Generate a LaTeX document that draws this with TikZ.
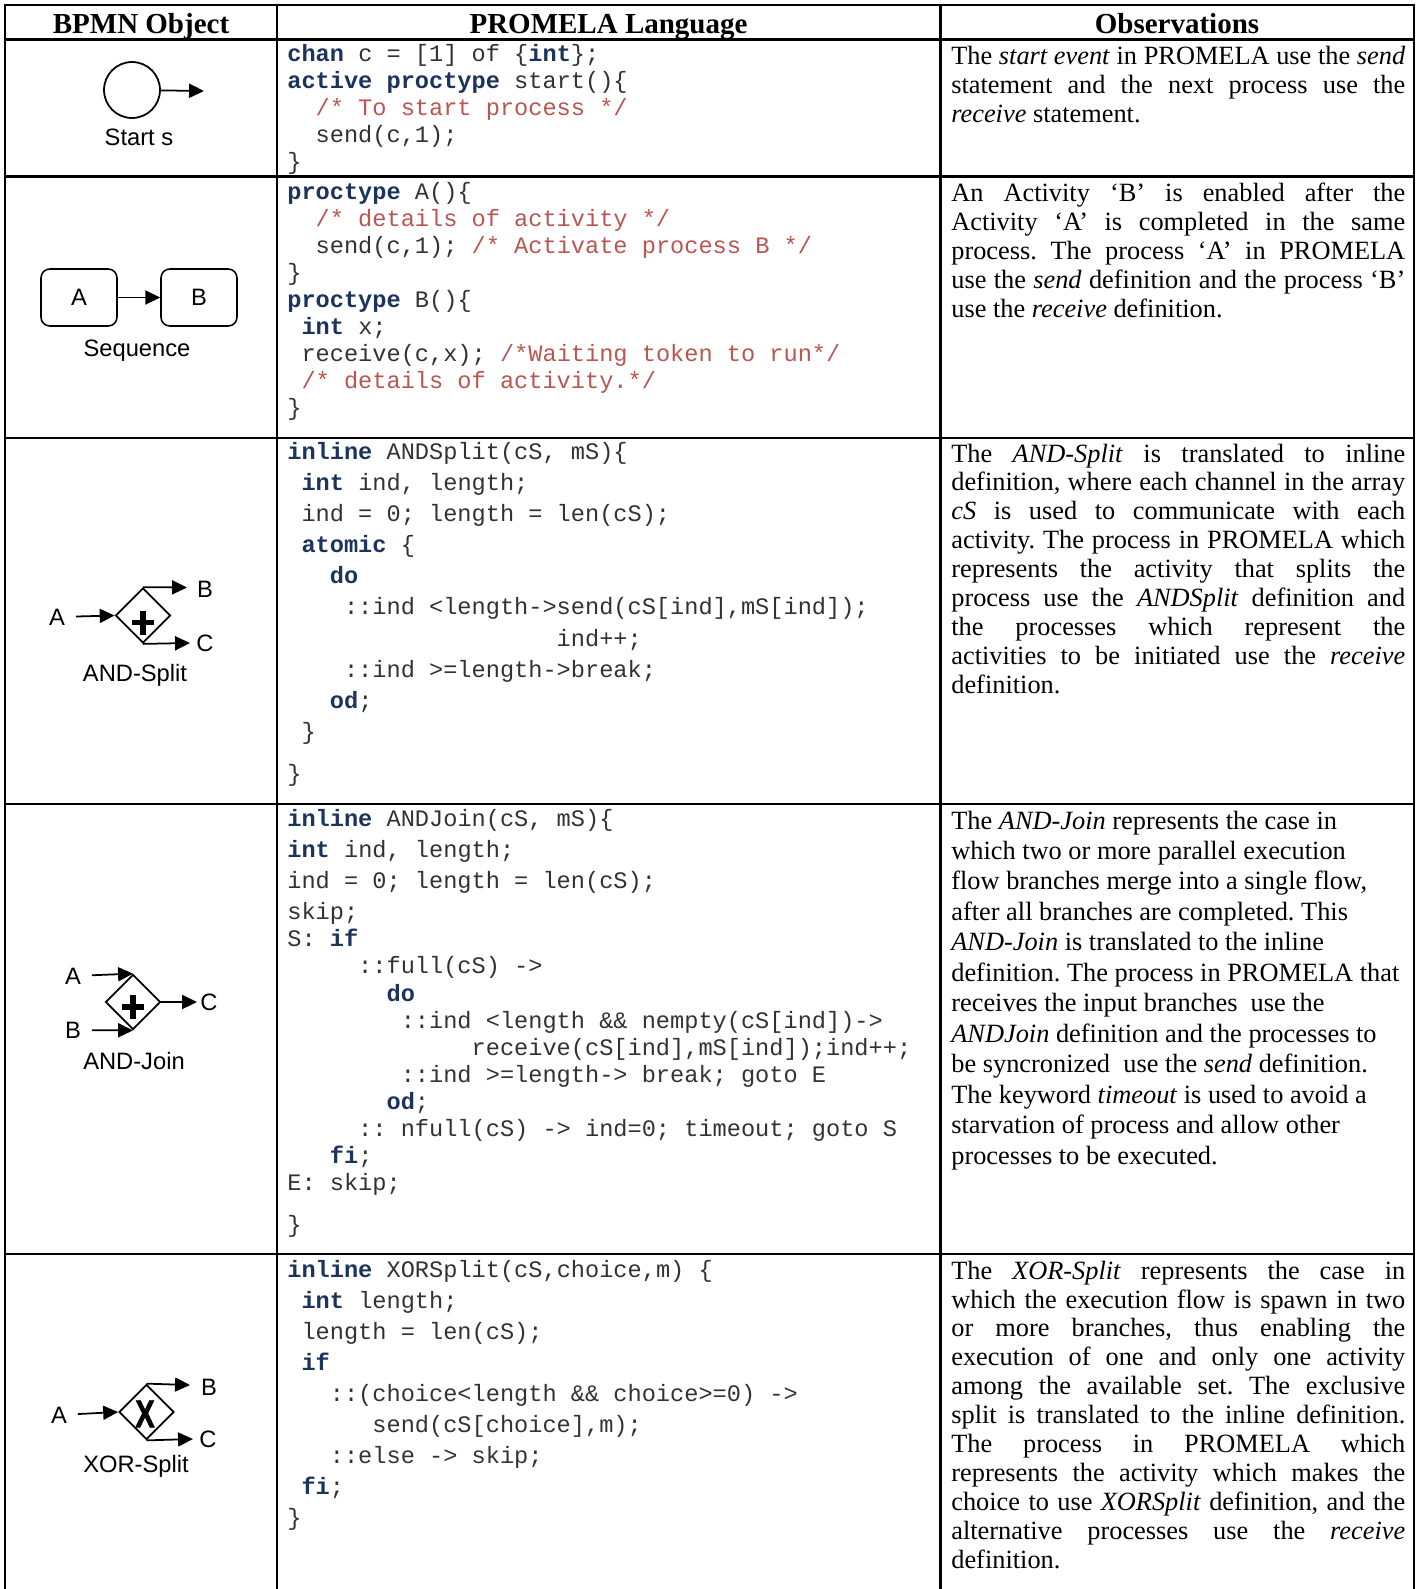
\documentclass[tikz,border=0pt]{standalone}
\usepackage{fontspec}
\usepackage{graphicx}
\setmainfont{Liberation Serif}
\setmonofont{Liberation Mono}
\newfontfamily\bpmnfont{Liberation Sans}
\newfontfamily\gatex[FakeBold=2]{Liberation Sans Bold}
\usetikzlibrary{shapes.geometric}
\usetikzlibrary{arrows.meta}
\usetikzlibrary{positioning}
\definecolor{kwblue}{RGB}{28,52,92}
\definecolor{cmtred}{RGB}{184,86,82}
\definecolor{codegray}{RGB}{50,50,50}
\newdimen\chw \chw=8.07pt
\newcommand\monosp{\fontdimen2\font=\chw\fontdimen3\font=0pt\fontdimen4\font=0pt\fontdimen7\font=0pt}
\newcommand\kwd[1]{{\bfseries\monosp\color{kwblue}#1}}
\newcommand\cmt[1]{{\color{cmtred}#1}}
\newcommand\indt[1]{\hspace*{#1\chw}}
\hyphenpenalty=10000 \exhyphenpenalty=10000 \tolerance=9999
\frenchspacing

\begin{document}
\begin{tikzpicture}[x=0.02cm, y=-0.02cm, >={Triangle[length=8.5pt,width=8pt]},
    grid/.style={line width=1.2pt},
    head/.style={anchor=base, inner sep=0, font=\bfseries\fontsize{16.5}{18}\selectfont},
    code/.style={anchor=base west, inner sep=0, text width=13cm, align=flush left, text=codegray,
      font=\ttfamily\fontsize{13.45}{#1}\selectfont\monosp},
    code/.default=15.5pt,
    obs/.style={anchor=base west, inner sep=0, text width=9.08cm, align=justify,
      font=\fontsize{15}{#1}\selectfont},
    obs/.default=16.6pt,
    lbl/.style={inner sep=0, font=\bpmnfont\fontsize{13.5}{15}\selectfont},
    task/.style={rectangle, rounded corners=5pt, draw, line width=0.9pt, minimum width=1.52cm,
      minimum height=1.14cm, font=\bpmnfont\fontsize{13.5}{15}\selectfont},
    gate/.style={diamond, draw, line width=1pt, minimum width=1.1cm, minimum height=1.1cm, inner sep=0},
    flow/.style={->, line width=1pt},
    inflow/.style={flow, shorten <=6pt}]
    \useasboundingbox (0,0) rectangle (1425,1589);

    \draw[grid] (5,1589) -- (5,5) -- (1414,5) -- (1414,1589);
    \draw[grid] (277,5) -- (277,1589);
    \draw[grid] (940.5,5) -- (940.5,1589);
    \foreach \y in {39.5,176.5,438,804,1254}
      \draw[grid] (5,\y) -- (1414,\y);

    \node[head] (h1) at (141,33) {BPMN Object};
    \node[head] (h2) at (608.5,33) {PROMELA Language};
    \node[head] (h3) at (1177,33) {Observations};

    % start event
    \node[circle, draw, line width=1pt, minimum size=1.12cm, inner sep=0] (s0) at (132,90) {};
    \coordinate (s0e) at (204,91);
    \path[flow] (s0) edge (s0e);
    \node[lbl] (s0l) at (139,137) {Start s};

    % sequence
    \node[task] (sA) at (79,297.5) {A};
    \node[task] (sB) at (199,297.5) {B};
    \path[flow] (sA) edge (sB);
    \node[lbl] (sql) at (137,351) {Sequence};

    % and-split
    \node[gate] (g1) at (143,615.5) {};
    \path (g1.center) ++(0,7) coordinate (g1p);
    \draw[line width=3.2pt] (g1p) ++(-11,0) -- ++(22,0) (g1p) ++(0,-12) -- ++(0,24);
    \node[lbl] (g1a) at (57,617) {A};
    \node[lbl] (g1b) at (205,589) {B};
    \node[lbl] (g1c) at (205,643) {C};
    \coordinate (g1be) at (187,587.5);
    \coordinate (g1ce) at (190,643);
    \path[inflow] (g1a) edge (g1.west);
    \path[flow] (g1.north) edge (g1be);
    \path[flow] (g1.south) edge (g1ce);
    \node[lbl] (g1l) at (135,675) {AND-Split};

    % and-join
    \node[gate] (g2) at (133,1002) {};
    \path (g2.center) ++(0,5) coordinate (g2p);
    \draw[line width=3.2pt] (g2p) ++(-11,0) -- ++(22,0) (g2p) ++(0,-12) -- ++(0,24);
    \node[lbl] (g2a) at (73,976) {A};
    \node[lbl] (g2b) at (73,1030) {B};
    \node[lbl] (g2c) at (209,1002) {C};
    \coordinate (g2ce) at (197,1002);
    \path[inflow] (g2a) edge (g2.north);
    \path[inflow] (g2b) edge (g2.south);
    \path[flow] (g2.east) edge (g2ce);
    \node[lbl] (g2l) at (134,1061) {AND-Join};

    % xor-split
    \node[gate] (g3) at (146.5,1412) {};
    \node[inner sep=0, font=\gatex\fontsize{22}{22}\selectfont] (g3x) at (145,1414) {\scalebox{0.75}[1]{X}};
    \node[lbl] (g3a) at (59,1415) {A};
    \node[lbl] (g3b) at (209,1387) {B};
    \node[lbl] (g3c) at (208,1439) {C};
    \coordinate (g3be) at (190,1385);
    \coordinate (g3ce) at (193,1439);
    \path[inflow] (g3a) edge (g3.west);
    \path[flow] (g3.north) edge (g3be);
    \path[flow] (g3.south) edge (g3ce);
    \node[lbl] (g3l) at (136,1466) {XOR-Split};

    % promela code
    \node[code] (c1) at (287,61) {\kwd{chan} c = [1] of \{\kwd{int}\};\\
      \kwd{active proctype} start()\{\\
      \indt{2}\cmt{/* To start process */}\\
      \indt{2}send(c,1);\\
      \}};
    \node[code=15.4pt] (c2) at (287,199) {\kwd{proctype} A()\{\\
      \indt{2}\cmt{/* details of activity */}\\
      \indt{2}send(c,1); \cmt{/* Activate process B */}\\
      \}\\
      \kwd{proctype} B()\{\\
      \indt{1}\kwd{int} x;\\
      \indt{1}receive(c,x); \cmt{/*Waiting token to run*/}\\
      \indt{1}\cmt{/* details of activity.*/}\\
      \}};
    \node[code=17.7pt] (c3) at (287,459.5) {\kwd{inline} ANDSplit(cS, mS)\{\\
      \indt{1}\kwd{int} ind, length;\\
      \indt{1}ind = 0; length = len(cS);\\
      \indt{1}\kwd{atomic} \{\\
      \indt{3}\kwd{do}\\
      \indt{4}::ind <length->send(cS[ind],mS[ind]);\\
      \indt{19}ind++;\\
      \indt{4}::ind >=length->break;\\
      \indt{3}\kwd{od};\\
      \indt{1}\}\\[6.5pt]
      \}};
    \node[code=15.4pt] (c4) at (287,826) {\kwd{inline} ANDJoin(cS, mS)\{\\[2.4pt]
      \kwd{int} ind, length;\\[2.4pt]
      ind = 0; length = len(cS);\\[2.4pt]
      skip;\\
      S: \kwd{if}\\
      \indt{5}::full(cS) ->\\
      \indt{7}\kwd{do}\\
      \indt{8}::ind <length \&\& nempty(cS[ind])->\\
      \indt{13}receive(cS[ind],mS[ind]);ind++;\\
      \indt{8}::ind >=length-> break; goto E\\
      \indt{7}\kwd{od};\\
      \indt{5}:: nfull(cS) -> ind=0; timeout; goto S\\
      \indt{3}\kwd{fi};\\
      E: skip;\\[8.8pt]
      \}};
    \node[code=17.7pt] (c5) at (287,1277) {\kwd{inline} XORSplit(cS,choice,m) \{\\
      \indt{1}\kwd{int} length;\\
      \indt{1}length = len(cS);\\
      \indt{1}\kwd{if}\\
      \indt{3}::(choice<length \&\& choice>=0) ->\\
      \indt{6}send(cS[choice],m);\\
      \indt{3}::else -> skip;\\
      \indt{1}\kwd{fi};\\
      \}};

    % observations
    \node[obs] (o1) at (951,64) {The \textit{start event} in PROMELA use the \textit{send}\linebreak
      statement and the next process use the\linebreak
      \textit{receive} statement.};
    \node[obs] (o2) at (951,201) {An Activity ‘B’ is enabled after the\linebreak
      Activity ‘A’ is completed in the same\linebreak
      process. The process ‘A’ in PROMELA\linebreak
      use the \textit{send} definition and the process ‘B’\linebreak
      use the \textit{receive} definition.};
    \node[obs=16.5pt] (o3) at (951,462) {The \textit{AND-Split} is translated to inline\linebreak
      definition, where each channel in the array\linebreak
      \textit{cS} is used to communicate with each\linebreak
      activity. The process in PROMELA which\linebreak
      represents the activity that splits the\linebreak
      process use the \textit{ANDSplit} definition and\linebreak
      the processes which represent the\linebreak
      activities to be initiated use the \textit{receive}\linebreak
      definition.};
    \node[obs=17.35pt, align=flush left] (o4) at (951,829) {The \textit{AND-Join} represents the case in\\
      which two or more parallel execution\\
      flow branches merge into a single flow,\\
      after all branches are completed. This\\
      \textit{AND-Join} is translated to the inline\\
      definition. The process in PROMELA that\\
      receives the input branches\ \ use the\\
      \textit{ANDJoin} definition and the processes to\\
      be syncronized\ \ use the \textit{send} definition.\\
      The keyword \textit{timeout} is used to avoid a\\
      starvation of process and allow other\\
      processes to be executed.};
    \node[obs=16.5pt] (o5) at (951,1279) {The \textit{XOR-Split} represents the case in\linebreak
      which the execution flow is spawn in two\linebreak
      or more branches, thus enabling the\linebreak
      execution of one and only one activity\linebreak
      among the available set. The exclusive\linebreak
      split is translated to the inline definition.\linebreak
      The process in PROMELA which\linebreak
      represents the activity which makes the\linebreak
      choice to use \textit{XORSplit} definition, and the\linebreak
      alternative processes use the \textit{receive}\linebreak
      definition.};
\end{tikzpicture}
\end{document}
